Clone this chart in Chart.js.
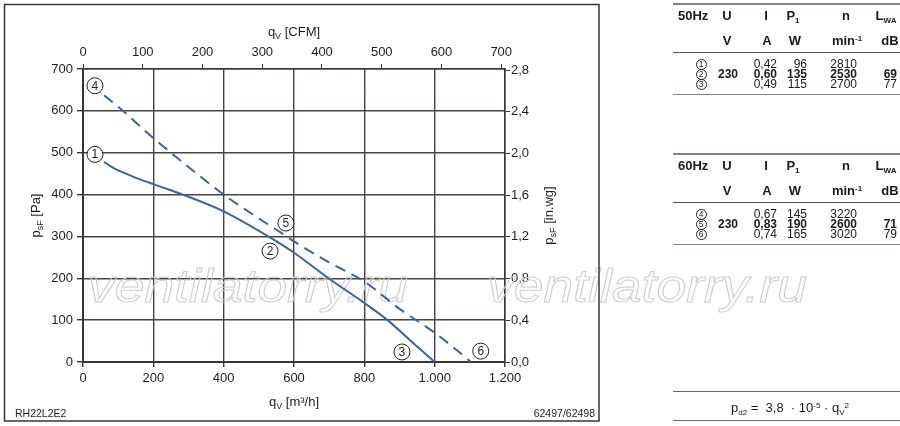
<!DOCTYPE html>
<html><head><meta charset="utf-8">
<script src="https://cdn.jsdelivr.net/npm/chart.js@4.4.1/dist/chart.umd.min.js"></script>
<style>
html,body{margin:0;padding:0;background:#fff;}
#wrap{position:relative;width:900px;height:426px;overflow:hidden;font-family:"Liberation Sans",Arial,sans-serif;color:#1a1a1a;}
canvas{position:absolute;left:0;top:0;}
.t{position:absolute;font-size:12px;line-height:12px;height:12px;white-space:nowrap;}
.h{font-size:13px;line-height:14px;height:14px;}
.b{font-weight:bold;}
.hl{position:absolute;left:673px;width:227px;height:0;}
.circ{position:absolute;width:9px;height:9px;border:1px solid #222;border-radius:50%;font-size:8.5px;line-height:9.5px;text-align:center;}
.sb{display:inline-block;font-size:8px;position:relative;top:3px;}
.sp{display:inline-block;font-size:8px;position:relative;top:-4px;}
</style></head>
<body><div id="wrap"><canvas id="c" width="900" height="426"></canvas></div>
<script>
// ---- data ----
const qv50 = [60, 80, 100, 125, 160, 200, 284, 400, 527, 600, 700, 800, 866, 930, 1000];
const ps50 = [478, 467, 458, 449, 437, 425, 400, 360, 300, 261, 199, 141, 100, 52, 0];
const qv60 = [60, 100, 200, 300, 400, 500, 579, 600, 700, 800, 900, 1000, 1050, 1103];
const ps60 = [637, 610, 535, 466, 400, 343, 300, 288, 238, 192, 127, 70, 37, 0];
const qvTicks = [0, 200, 400, 600, 800, 1000, 1200];
const cfmTicks = [0, 100, 200, 300, 400, 500, 600, 700];
const paTicks = [0, 100, 200, 300, 400, 500, 600, 700];
const inwgTicks = [0, 0.4, 0.8, 1.2, 1.6, 2.0, 2.4, 2.8];
const markers = [['1',34,496],['2',532,265],['3',907,24],['4',34,660],['5',577,332],['6',1131,26]];
const M3H_PER_CFM = 1.699, PA_PER_INWG = 249.09;

const hdrCols = ['U','I','P','n','L'];
const unitCols = ['V','A','W','min','dB'];
const rows50 = [['1','','0,42','96','2810',''],['2','230','0,60','135','2530','69'],['3','','0,49','115','2700','77']];
const rows60 = [['4','','0,67','145','3220',''],['5','230','0,83','190','2600','71'],['6','','0,74','165','3020','79']];
const freqs = ['50Hz','60Hz'];

const FONT = '"Liberation Sans", Arial, sans-serif';
const INK = '#1e1e1e';
const GRID = '#4a4338';
const BLUE = '#3d63a2';

function pts(xs, ys){ return xs.map((x,i)=>({x:x, y:ys[i]})); }
function thou(v){ return String(Math.round(v)).replace(/\B(?=(\d{3})+(?!\d))/g,'.'); }

function rich(g, parts, x, y, align){
  let w=0;
  parts.forEach(p=>{ g.font=p[1]+'px '+FONT; w+=g.measureText(p[0]).width; });
  let cx = align==='center' ? x-w/2 : (align==='right'? x-w : x);
  g.textAlign='left'; g.textBaseline='alphabetic';
  parts.forEach(p=>{ g.font=p[1]+'px '+FONT; g.fillText(p[0], cx, y+(p[2]||0)); cx+=g.measureText(p[0]).width; });
}

const decor = {
  id:'decor',
  beforeDraw(c){ const g=c.ctx; g.save(); g.fillStyle='#fff'; g.fillRect(0,0,c.width,c.height); g.restore(); },
  beforeDatasetsDraw(c){
    const g=c.ctx; g.save();
    g.font='italic 47px '+FONT; g.strokeStyle='#cdcdcd'; g.lineWidth=1;
    const w=g.measureText('ventilatorry.ru').width;
    [88, 487].forEach(x0=>{
      g.save(); g.translate(x0, 302); g.scale(320/w, 1);
      g.strokeText('ventilatorry.ru', 0, 0); g.restore();
    });
    g.restore();
  },
  afterDatasetsDraw(c){
    const g=c.ctx, sx=c.scales.x, sy=c.scales.y; g.save();
    markers.forEach(m=>{
      const px=sx.getPixelForValue(m[1]), py=sy.getPixelForValue(m[2]);
      g.beginPath(); g.arc(px,py,8,0,Math.PI*2); g.fillStyle='#fff'; g.fill();
      g.lineWidth=1; g.strokeStyle='#222'; g.stroke();
      g.fillStyle=INK; g.font='12px '+FONT; g.textAlign='center'; g.textBaseline='middle';
      g.fillText(m[0], px, py+0.5);
    });
    g.restore();
  },
  afterDraw(c){
    const g=c.ctx; g.save();
    g.strokeStyle='#3a3630'; g.lineWidth=1.5; g.strokeRect(4.5,4.5,594.5,416.5);
    g.fillStyle=INK;
    const cx=(c.chartArea.left+c.chartArea.right)/2, cy=(c.chartArea.top+c.chartArea.bottom)/2;
    rich(g, [['q',13],['V',9,3],[' [m³/h]',13]], cx, 406, 'center');
    rich(g, [['q',13],['V',9,3],[' [CFM]',13]], cx, 36, 'center');
    g.save(); g.translate(35, cy); g.rotate(-Math.PI/2);
    rich(g, [['p',13],['sF',9,3],[' [Pa]',13]], 0, 4.5, 'center'); g.restore();
    g.save(); g.translate(548, cy); g.rotate(-Math.PI/2);
    rich(g, [['p',13],['sF',9,3],[' [in.wg]',13]], 0, 4.5, 'center'); g.restore();
    g.font='10.5px '+FONT; g.textBaseline='alphabetic';
    g.textAlign='left'; g.fillText('RH22L2E2', 15, 416.5);
    g.textAlign='right'; g.fillText('62497/62498', 595, 416.5);
    g.restore();
  }
};

const tickFont = {family: FONT, size: 13};
new Chart(document.getElementById('c'), {
  type:'line',
  data:{datasets:[
    {data: pts(qv50, ps50), borderColor: BLUE, borderWidth: 2, pointRadius: 0, cubicInterpolationMode:'monotone', xAxisID:'x', yAxisID:'y'},
    {data: pts(qv60, ps60), borderColor: BLUE, borderWidth: 2, borderDash:[11,7], pointRadius: 0, cubicInterpolationMode:'monotone', xAxisID:'x', yAxisID:'y'}
  ]},
  options:{
    responsive:false, animation:false, events:[],
    layout:{padding:0},
    plugins:{legend:{display:false}, tooltip:{enabled:false}},
    scales:{
      x:{type:'linear', position:'bottom', min:0, max:1200,
        afterFit:s=>{s.height=64;},
        afterBuildTicks:s=>{s.ticks=qvTicks.map(v=>({value:v}));},
        ticks:{callback:v=>thou(v), font:tickFont, color:INK, padding:4, maxRotation:0, autoSkip:false},
        grid:{color:GRID, lineWidth:1.4, tickLength:5, tickColor:'#3a3630'},
        border:{color:'#3a3630', width:2}},
      x2:{type:'linear', position:'top', min:0, max:1200/M3H_PER_CFM,
        afterFit:s=>{s.height=69;},
        afterBuildTicks:s=>{s.ticks=cfmTicks.map(v=>({value:v}));},
        ticks:{callback:v=>String(v), font:tickFont, color:INK, padding:4, maxRotation:0, autoSkip:false},
        grid:{drawOnChartArea:false, tickLength:5, color:'#3a3630'},
        border:{color:'#3a3630', width:1.5}},
      y:{type:'linear', position:'left', min:0, max:700,
        afterFit:s=>{s.width=83;},
        afterBuildTicks:s=>{s.ticks=paTicks.map(v=>({value:v}));},
        ticks:{callback:v=>String(v), font:tickFont, color:INK, padding:4, autoSkip:false},
        grid:{color:GRID, lineWidth:1.4, tickLength:6, tickColor:'#3a3630'},
        border:{color:'#3a3630', width:2}},
      y2:{type:'linear', position:'right', min:0, max:700/PA_PER_INWG,
        afterFit:s=>{s.width=395;},
        afterBuildTicks:s=>{s.ticks=inwgTicks.map(v=>({value:v}));},
        ticks:{callback:v=>v.toFixed(1).replace('.',','), font:tickFont, color:INK, padding:1, autoSkip:false},
        grid:{drawOnChartArea:false, tickLength:5, color:'#3a3630'},
        border:{color:'#3a3630', width:1.5}}
    }
  },
  plugins:[decor]
});

// ---- tables (HTML) ----
const wrap=document.getElementById('wrap');
function place(html, x, y, align, cls, lh){
  const d=document.createElement('div'); d.className='t '+(cls||''); d.innerHTML=html;
  d.style.top=(y-(lh||12)/2)+'px';
  if(align==='r'){ d.style.right=(900-x)+'px'; }
  else if(align==='c'){ d.style.left=(x-110)+'px'; d.style.width='220px'; d.style.textAlign='center'; }
  else { d.style.left=x+'px'; }
  wrap.appendChild(d);
}
function hline(y, w, col){
  const d=document.createElement('div'); d.className='hl';
  d.style.top=y+'px'; d.style.borderTop=w+'px solid '+col; wrap.appendChild(d);
}
function circ(n, x, y){
  const d=document.createElement('div'); d.className='circ'; d.textContent=n;
  d.style.left=(x-5.5)+'px'; d.style.top=(y-5.5)+'px'; wrap.appendChild(d);
}
const hdrX=[727,766,793,846,886];
const unitX=[727,767,795,847,890];
const dataR=[738,777,807,857,897];
function table(off, freq, rows){
  hline(3+off, 2, '#8a8478');
  place(freq, 678, 16+off, 'l', 'b h', 14);
  hdrCols.forEach((h,i)=>{
    let html=h;
    if(h==='P') html='P<span class="sb">1</span>';
    if(h==='L') html='L<span class="sb">WA</span>';
    place(html, hdrX[i], 16+off, 'c', 'b h', 14);
  });
  unitCols.forEach((u,i)=>{
    let html = u==='min' ? 'min<span class="sp">-1</span>' : u;
    place(html, unitX[i], 41+off, 'c', 'b h', 14);
  });
  hline(52+off, 1.2, '#5a554c');
  rows.forEach((r,ri)=>{
    const y=64+off+ri*10;
    circ(r[0], 701, y);
    for(let k=1;k<6;k++){ if(r[k]) place(r[k], dataR[k-1], y, 'r', ri===1?'b':''); }
  });
  hline(94+off, 1.5, '#8a8478');
}
table(0, freqs[0], rows50);
table(150, freqs[1], rows60);
hline(391, 1.5, '#6e685e');
hline(420, 1.5, '#6e685e');
place('<span style="font-size:13px">p<span class="sb">d2</span>&nbsp;=&nbsp; 3,8 &nbsp;·&nbsp;10<span class="sp">-5</span>&nbsp;·&nbsp;q<span class="sb">V</span><span class="sp">2</span></span>', 790, 409, 'c', '', 14);
</script></body></html>
